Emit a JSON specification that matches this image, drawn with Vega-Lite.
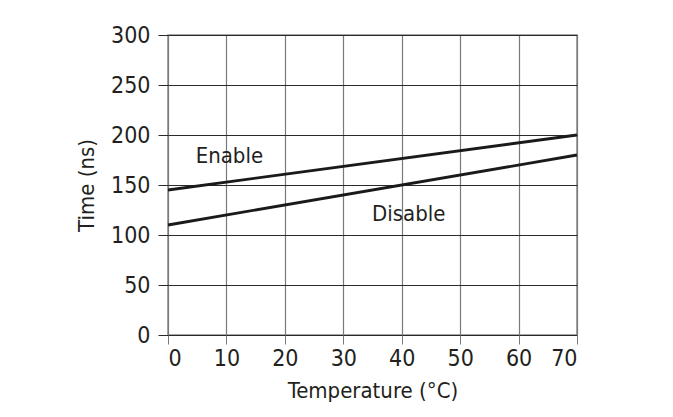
{
  "$schema": "https://vega.github.io/schema/vega-lite/v6.json",
  "autosize": "none",
  "padding": {"left": 168, "top": 35, "right": 96, "bottom": 82},
  "width": 409,
  "height": 300,
  "background": "white",
  "datasets": {
    "lines": [
      {"series": "Enable", "temp": 0, "time": 145},
      {"series": "Enable", "temp": 70, "time": 200},
      {"series": "Disable", "temp": 0, "time": 110},
      {"series": "Disable", "temp": 70, "time": 180}
    ],
    "labels": [
      {"series": "Enable", "temp": 10.5, "time": 179},
      {"series": "Disable", "temp": 41.2, "time": 121}
    ]
  },
  "layer": [
    {
      "data": {"name": "lines"},
      "mark": {"type": "line", "color": "#1a1a1a", "strokeWidth": 2.8},
      "encoding": {
        "x": {
          "field": "temp",
          "type": "quantitative",
          "title": "Temperature (°C)",
          "scale": {"domain": [0, 70], "nice": false},
          "axis": {
            "values": [0, 10, 20, 30, 40, 50, 60, 70],
            "grid": true,
            "gridColor": "#7a7a7a",
            "gridWidth": 1.2,
            "gridOpacity": 1,
            "domain": false,
            "tickColor": "#7a7a7a",
            "tickSize": 9,
            "labelPadding": 3,
            "labelFontSize": 23,
            "titlePadding": 10
          }
        },
        "y": {
          "field": "time",
          "type": "quantitative",
          "title": "Time (ns)",
          "scale": {"domain": [0, 300], "nice": false},
          "axis": {
            "values": [0, 50, 100, 150, 200, 250, 300],
            "grid": true,
            "gridColor": "#2a2a2a",
            "gridWidth": 1.2,
            "gridOpacity": 1,
            "domain": false,
            "tickColor": "#2a2a2a",
            "tickSize": 10,
            "labelPadding": 8,
            "labelFontSize": 23,
            "titlePadding": 12
          }
        },
        "detail": {"field": "series"}
      }
    },
    {
      "data": {"name": "labels"},
      "mark": {"type": "text", "fontSize": 22, "color": "#231f20", "font": "DejaVu Sans Condensed, DejaVu Sans, sans-serif"},
      "encoding": {
        "x": {"field": "temp", "type": "quantitative"},
        "y": {"field": "time", "type": "quantitative"},
        "text": {"field": "series"}
      }
    }
  ],
  "config": {
    "font": "DejaVu Sans Condensed, DejaVu Sans, sans-serif",
    "view": {"stroke": "#8a8a8a", "strokeWidth": 1.5},
    "axis": {
      "labelFont": "DejaVu Sans Condensed, DejaVu Sans, sans-serif",
      "titleFont": "DejaVu Sans Condensed, DejaVu Sans, sans-serif",
      "titleFontSize": 22,
      "labelColor": "#231f20",
      "titleColor": "#231f20",
      "titleFontWeight": "normal"
    }
  }
}
